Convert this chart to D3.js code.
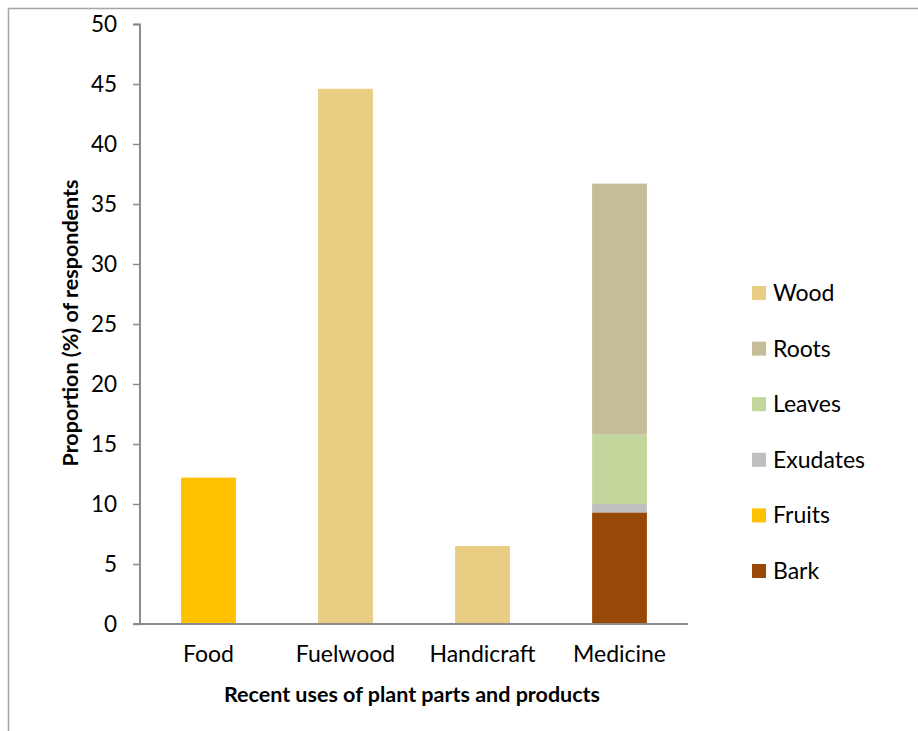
<!DOCTYPE html>
<html>
<head>
<meta charset="utf-8">
<script src="https://cdn.jsdelivr.net/npm/d3@7"></script>
<style>
  body { margin: 0; background: #fff; }
  text { font-family: Lato, "Open Sans", sans-serif; fill: #000; }
</style>
</head>
<body>
<div id="chart"></div>
<script>
// data
var categories = ["Food", "Fuelwood", "Handicraft", "Medicine"];
var parts = ["Bark", "Fruits", "Exudates", "Leaves", "Roots", "Wood"];
var legendOrder = ["Wood", "Roots", "Leaves", "Exudates", "Fruits", "Bark"];
var bark = [0, 0, 0, 9.3];
var fruits = [12.2, 0, 0, 0];
var exudates = [0, 0, 0, 0.7];
var leaves = [0, 0, 0, 5.8];
var roots = [0, 0, 0, 20.9];
var wood = [0, 44.6, 6.5, 0];
var yTicks = [0, 5, 10, 15, 20, 25, 30, 35, 40, 45, 50];
var partColors = ["#984807", "#FFC000", "#BFBFBF", "#C3D69B", "#C4BD97", "#E8CD82"];

var svgWidth = 918;
var svgHeight = 731;
var margin = { top: 24, right: 230, bottom: 107, left: 140 };
var width = svgWidth - margin.left - margin.right;
var height = svgHeight - margin.top - margin.bottom;

var svg = d3.select("#chart")
    .append("svg")
    .attr("width", svgWidth)
    .attr("height", svgHeight);

// outer frame
svg.append("rect")
    .attr("x", 8.5)
    .attr("y", 8.5)
    .attr("width", 930)
    .attr("height", 760)
    .attr("fill", "none")
    .attr("stroke", "#A6A6A6")
    .attr("stroke-width", 1.5);

var chartGroup = svg.append("g")
    .attr("transform", `translate(${margin.left}, ${margin.top})`);

var table = categories.map((c, i) => ({
    cat: c, Bark: bark[i], Fruits: fruits[i], Exudates: exudates[i],
    Leaves: leaves[i], Roots: roots[i], Wood: wood[i]
}));
var stacked = d3.stack().keys(parts)(table);

var xScale = d3.scaleBand()
    .domain(categories)
    .range([0, width])
    .paddingInner(0.6)
    .paddingOuter(0.3);
var yScale = d3.scaleLinear()
    .domain([0, 50])
    .range([height, 0]);
var color = d3.scaleOrdinal().domain(parts).range(partColors);

// bars
chartGroup.selectAll(".layer")
    .data(stacked)
    .join("g")
    .attr("class", "layer")
    .attr("fill", d => color(d.key))
    .selectAll("rect")
    .data(d => d.filter(p => p[1] - p[0] > 0))
    .join("rect")
    .attr("x", d => xScale(d.data.cat))
    .attr("width", xScale.bandwidth())
    .attr("y", d => yScale(d[1]))
    .attr("height", d => yScale(d[0]) - yScale(d[1]));

// axes
var yAxis = d3.axisLeft(yScale).tickValues(yTicks).tickSize(7).tickPadding(16);
var gy = chartGroup.append("g").call(yAxis);
gy.select(".domain").attr("stroke", "#8C8C8C").attr("stroke-width", 2).attr("d", `M-7,0.5H0V${height}`);
gy.selectAll(".tick line").attr("stroke", "#8C8C8C").attr("stroke-width", 1.5);
gy.selectAll(".tick text").style("font-size", "22.5px").attr("dy", "0.35em");

var xAxis = d3.axisBottom(xScale).tickSize(0).tickPadding(22);
var gx = chartGroup.append("g")
    .attr("transform", `translate(0, ${height})`)
    .call(xAxis);
gx.select(".domain").attr("stroke", "#8C8C8C").attr("stroke-width", 2).attr("d", `M-7,0H${width}`);
gx.selectAll(".tick text").style("font-size", "23px");

// axis titles
chartGroup.append("text")
    .attr("transform", "rotate(-90)")
    .attr("x", -height / 2 + 1)
    .attr("y", -62)
    .style("text-anchor", "middle")
    .style("font-size", "21.5px")
    .style("font-weight", "bold")
    .text("Proportion (%) of respondents");
chartGroup.append("text")
    .attr("x", width / 2 - 2)
    .attr("y", height + 78)
    .style("text-anchor", "middle")
    .style("font-size", "21.5px")
    .style("font-weight", "bold")
    .text("Recent uses of plant parts and products");

// legend
var legend = svg.append("g").attr("transform", "translate(752, 293)");
var items = legend.selectAll("g")
    .data(legendOrder)
    .join("g")
    .attr("transform", (d, i) => `translate(0, ${i * 55.6})`);
items.append("rect")
    .attr("x", 0)
    .attr("y", -7)
    .attr("width", 14)
    .attr("height", 14)
    .attr("fill", d => color(d));
items.append("text")
    .attr("x", 21)
    .attr("dy", "0.35em")
    .style("font-size", "23px")
    .text(d => d);
</script>
</body>
</html>
